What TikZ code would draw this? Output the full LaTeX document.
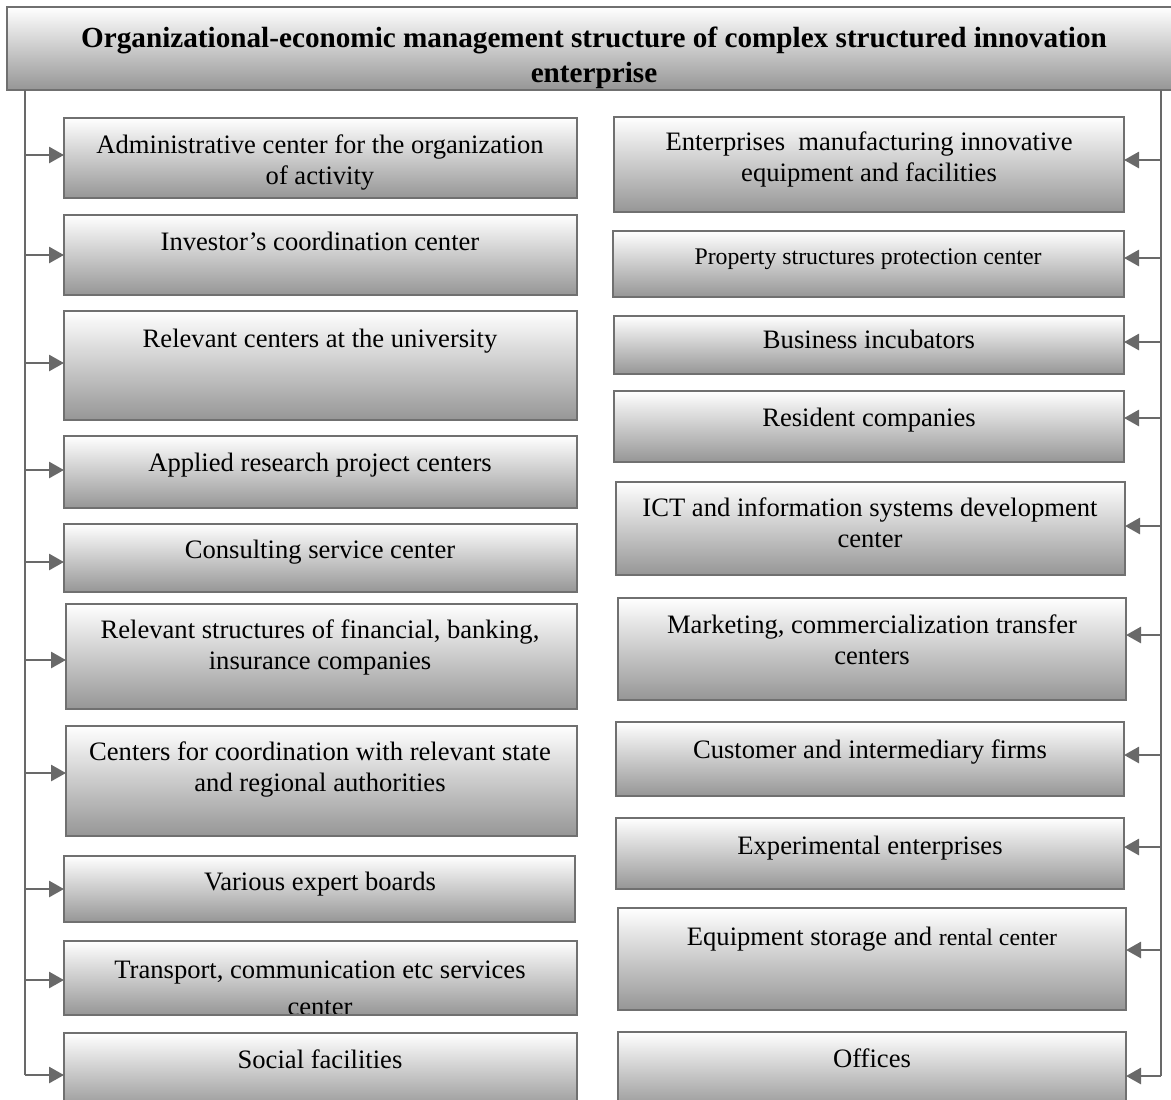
\documentclass[tikz,border=0pt]{standalone}
\usepackage{fontspec}
\setmainfont{Liberation Serif}
\usetikzlibrary{arrows.meta,fit}
\definecolor{boxline}{RGB}{112,112,112}
\definecolor{boxbot}{RGB}{150,150,150}
\definecolor{connc}{RGB}{105,105,105}
\tikzset{
  box/.style={draw=boxline, line width=1.1pt, top color=white, bottom color=boxbot, inner sep=0pt, outer sep=0pt},
  txt/.style={align=center, inner sep=0pt, anchor=base, font=\fontsize{13.3pt}{15.5pt}\selectfont},
  smalltxt/.style={align=center, inner sep=0pt, anchor=base, font=\fontsize{11.9pt}{14pt}\selectfont},
  ttl/.style={align=center, inner sep=0pt, anchor=base, font=\fontsize{14.6pt}{17.5pt}\selectfont\bfseries},
  conn/.style={draw=connc, line width=1.4pt},
  arr/.style={conn, -{Triangle[length=7.5pt,width=8pt]}},
}
\begin{document}
\begin{tikzpicture}[x=0.5pt,y=-0.5pt]
\useasboundingbox (0,0) rectangle (1171,1099);
\clip (0,0) rectangle (1171,1099);

% title
\node[box, fit={(7,7) (1180,90)}] (title) {};
\begin{scope}
\clip (title.south west) rectangle (title.north east);
\node[ttl] (titletext) at (594,82) {Organizational-economic management structure of complex structured innovation\\enterprise};
\end{scope}
\draw[draw=boxline, line width=1.1pt] (title.south west) rectangle (title.north east);

% left column
\node[box, fit={(64,118) (577,198)}] (l1) {};
\node[box, fit={(64,215) (577,295)}] (l2) {};
\node[box, fit={(64,311) (577,420)}] (l3) {};
\node[box, fit={(64,436) (577,508)}] (l4) {};
\node[box, fit={(64,524) (577,592)}] (l5) {};
\node[box, fit={(66,604) (577,709)}] (l6) {};
\node[box, fit={(66,726) (577,836)}] (l7) {};
\node[box, fit={(64,856) (575,922)}] (l8) {};
\node[box, fit={(64,941) (577,1015)}] (l9) {};
\node[box, fit={(64,1033) (577,1110)}] (l10) {};

\node[txt] (lt1) at (320,184) {Administrative center for the organization\\of activity};
\node[txt] (lt2) at (320,250) {Investor’s coordination center};
\node[txt] (lt3) at (320,347) {Relevant centers at the university};
\node[txt] (lt4) at (320,471) {Applied research project centers};
\node[txt] (lt5) at (320,558) {Consulting service center};
\node[txt] (lt6) at (320,669) {Relevant structures of financial, banking,\\insurance companies};
\node[txt] (lt7) at (320,791) {Centers for coordination with relevant state\\and regional authorities};
\node[txt] (lt8) at (320,890) {Various expert boards};
\begin{scope}
\clip (l9.south west) rectangle (l9.north east);
\node[txt, font=\fontsize{13.3pt}{18.5pt}\selectfont] (lt9) at (320,1015) {Transport, communication etc services\\center};
\end{scope}
\draw[draw=boxline, line width=1.1pt] (l9.south west) rectangle (l9.north east);
\node[txt] (lt10) at (320,1068) {Social facilities};

% right column
\node[box, fit={(614,117) (1124,212)}] (r1) {};
\node[box, fit={(613,231) (1124,297)}] (r2) {};
\node[box, fit={(614,316) (1124,374)}] (r3) {};
\node[box, fit={(614,391) (1124,462)}] (r4) {};
\node[box, fit={(616,482) (1125,575)}] (r5) {};
\node[box, fit={(618,598) (1126,700)}] (r6) {};
\node[box, fit={(616,722) (1124,796)}] (r7) {};
\node[box, fit={(616,818) (1124,889)}] (r8) {};
\node[box, fit={(618,908) (1126,1010)}] (r9) {};
\node[box, fit={(618,1032) (1126,1110)}] (r10) {};

\node[txt] (rt1) at (869,181) {Enterprises~ manufacturing innovative\\equipment and facilities};
\node[smalltxt] (rt2) at (868,264) {Property structures protection center};
\node[txt] (rt3) at (869,348) {Business incubators};
\node[txt] (rt4) at (869,426) {Resident companies};
\node[txt] (rt5) at (870,547) {ICT and information systems development\\center};
\node[txt] (rt6) at (872,664) {Marketing, commercialization transfer\\centers};
\node[txt] (rt7) at (870,758) {Customer and intermediary firms};
\node[txt] (rt8) at (870,854) {Experimental enterprises};
\node[txt] (rt9) at (872,945) {Equipment storage and {\fontsize{11.9pt}{14pt}\selectfont rental center}};
\node[txt] (rt10) at (872,1067) {Offices};

% trunk lines
\coordinate (lbot) at (25,1075);
\coordinate (rbot) at (1161,1076);
\draw[conn] (title.south -| lbot) -- (lbot);
\draw[conn] (title.south -| rbot) -- (rbot);

% left arrows
\foreach \i/\y in {1/155,2/255,3/363,4/470,5/562,6/660,7/773,8/889,9/980,10/1075}{
  \coordinate (la\i) at (25,\y);
  \draw[arr] (la\i) -- (la\i -| l\i.west);
}
% right arrows
\foreach \i/\y in {1/160,2/258,3/342,4/418,5/526,6/635,7/755,8/847,9/950,10/1076}{
  \coordinate (ra\i) at (1161,\y);
  \draw[arr] (ra\i) -- (ra\i -| r\i.east);
}
\end{tikzpicture}
\end{document}
